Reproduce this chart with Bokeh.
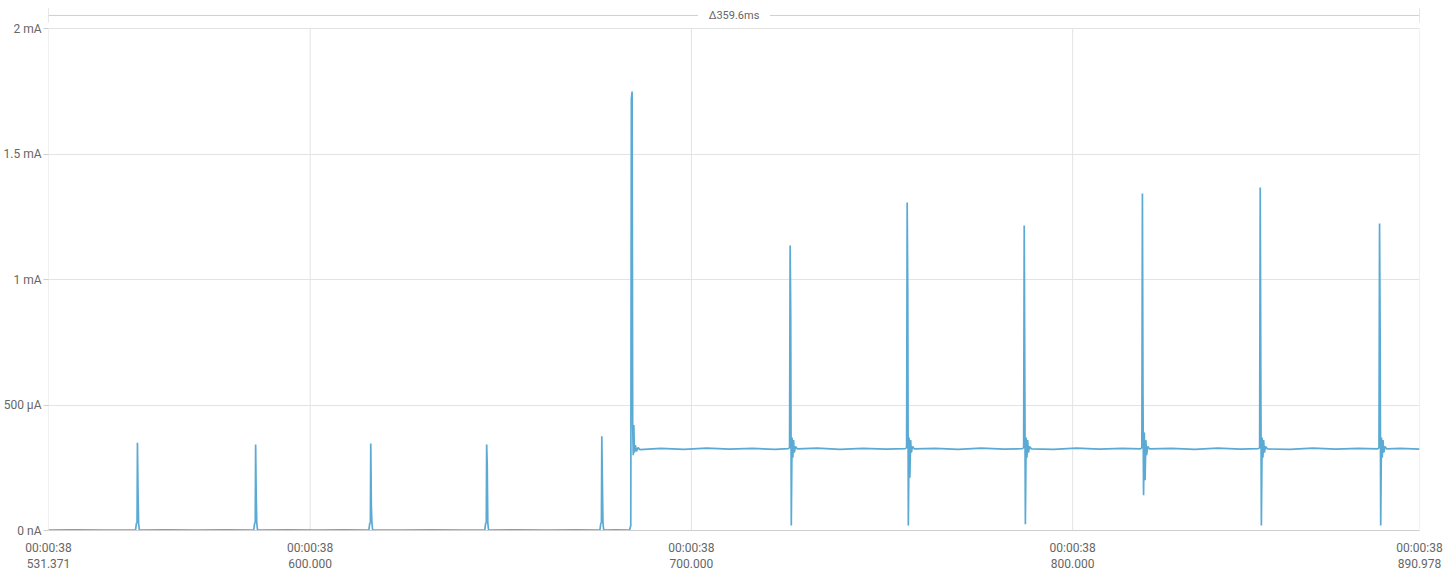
from bokeh.plotting import figure
from bokeh.models import Range1d, FixedTicker
from bokeh.core.properties import value
from bokeh.embed import file_html
from bokeh.resources import INLINE

# ---- data ----
x_start_ms = 531.371
x_end_ms = 890.978
x_ticks = [531.371, 600.0, 700.0, 800.0, 890.978]
x_tick_labels = ["00:00:38\n531.371", "00:00:38\n600.000", "00:00:38\n700.000",
                 "00:00:38\n800.000", "00:00:38\n890.978"]
y_ticks = [0.0, 0.5, 1.0, 1.5, 2.0]
y_tick_labels = ["0 nA", "500 µA", "1 mA", "1.5 mA", "2 mA"]

time_ms = [
    531.371, 538.0, 546.0, 554.2,
    554.45, 554.6, 554.7, 554.85, 555.0, 555.2,
    562.0, 570.0, 578.0, 585.2,
    585.45, 585.6, 585.7, 585.85, 586.0, 586.2,
    594.0, 602.0, 609.0, 615.4,
    615.65, 615.8, 615.9, 616.05, 616.2, 616.4,
    624.0, 632.0, 640.0, 645.8,
    646.05, 646.2, 646.3, 646.45, 646.6, 646.8,
    654.0, 662.0, 670.0, 676.0,
    676.25, 676.4, 676.5, 676.65, 676.8, 677.0,
    680.0, 683.8,
    684.1, 684.25, 684.45, 684.6, 684.75, 684.9, 685.05, 685.3, 685.6, 686.0, 686.5,
    692.0, 698.0, 704.0, 710.0, 716.0, 722.0, 725.4,
    725.75, 725.9, 726.05, 726.2, 726.4, 726.6, 726.8, 727.0, 727.3, 727.8,
    733.0, 739.0, 745.0, 751.0, 756.1,
    756.45, 756.6, 756.75, 756.9, 757.1, 757.3, 757.5, 757.7, 758.0, 758.5,
    764.0, 770.0, 776.0, 782.0, 786.8,
    787.15, 787.3, 787.45, 787.6, 787.8, 788.0, 788.2, 788.4, 788.7, 789.2,
    795.0, 801.0, 807.0, 813.0, 817.8,
    818.15, 818.3, 818.45, 818.6, 818.8, 819.0, 819.2, 819.4, 819.7, 820.2,
    826.0, 832.0, 838.0, 844.0, 848.7,
    849.05, 849.2, 849.35, 849.5, 849.7, 849.9, 850.1, 850.3, 850.6, 851.1,
    857.0, 863.0, 869.0, 875.0, 880.0,
    880.35, 880.5, 880.65, 880.8, 881.0, 881.2, 881.4, 881.6, 881.9, 882.4,
    886.0, 890.978,
]
current_ma = [
    0.002, 0.003, 0.002, 0.002,
    0.03, 0.03, 0.35, 0.16, 0.03, 0.002,
    0.003, 0.002, 0.003, 0.002,
    0.03, 0.03, 0.343, 0.14, 0.03, 0.002,
    0.003, 0.002, 0.003, 0.002,
    0.03, 0.03, 0.347, 0.10, 0.03, 0.002,
    0.002, 0.003, 0.002, 0.002,
    0.03, 0.03, 0.343, 0.26, 0.03, 0.002,
    0.003, 0.002, 0.003, 0.002,
    0.03, 0.03, 0.375, 0.20, 0.03, 0.002,
    0.003, 0.002,
    0.02, 1.72, 1.749, 0.42, 0.30, 0.42, 0.31, 0.34, 0.315, 0.33, 0.322,
    0.327, 0.323, 0.328, 0.324, 0.327, 0.323, 0.326,
    0.33, 1.135, 0.86, 0.02, 0.37, 0.29, 0.36, 0.31, 0.335, 0.325,
    0.328, 0.323, 0.327, 0.324, 0.326,
    0.33, 1.307, 0.955, 0.02, 0.37, 0.21, 0.36, 0.31, 0.335, 0.325,
    0.327, 0.323, 0.328, 0.324, 0.326,
    0.33, 1.215, 0.60, 0.025, 0.37, 0.29, 0.36, 0.31, 0.335, 0.325,
    0.323, 0.328, 0.324, 0.327, 0.325,
    0.33, 1.343, 0.54, 0.14, 0.39, 0.20, 0.36, 0.30, 0.335, 0.325,
    0.327, 0.323, 0.328, 0.324, 0.326,
    0.33, 1.367, 0.64, 0.02, 0.37, 0.29, 0.36, 0.31, 0.335, 0.325,
    0.323, 0.328, 0.324, 0.327, 0.325,
    0.33, 1.223, 0.80, 0.02, 0.37, 0.29, 0.36, 0.31, 0.335, 0.325,
    0.327, 0.324,
]

# ---- styling ----
FONT = "Roboto"
TEXT_COLOR = "#666666"
GRID_COLOR = "#e3e3e3"
AXIS_COLOR = "#cfcfcf"
LINE_COLOR = "#5aaad4"

y_top = 2.0837  # headroom for the selection span above the 2 mA line

p = figure(width=1446, height=576, output_backend="svg", toolbar_location=None,
           x_range=Range1d(x_start_ms, x_end_ms), y_range=Range1d(0, y_top),
           min_border_top=7, min_border_bottom=46, min_border_left=47,
           min_border_right=27)
p.outline_line_color = None
p.background_fill_color = "white"

# grids
p.xgrid.grid_line_color = None
p.ygrid.ticker = FixedTicker(ticks=y_ticks)
p.ygrid.grid_line_color = GRID_COLOR
p.segment(x0=x_ticks, y0=[0] * len(x_ticks), x1=x_ticks, y1=[2.0] * len(x_ticks),
          line_color=GRID_COLOR, line_width=1)

# x axis
xa = p.xaxis[0]
xa.ticker = FixedTicker(ticks=x_ticks)
xa.major_label_overrides = {t: l for t, l in zip(x_ticks, x_tick_labels)}
xa.major_tick_in = 0
xa.major_tick_out = 0
xa.minor_tick_out = 0
xa.minor_tick_in = 0
xa.axis_line_color = AXIS_COLOR
xa.major_label_standoff = 10
xa.major_label_text_font = FONT
xa.major_label_text_font_size = "12px"
xa.major_label_text_color = TEXT_COLOR

# y axis
ya = p.yaxis[0]
ya.ticker = FixedTicker(ticks=y_ticks)
ya.major_label_overrides = {t: l for t, l in zip(y_ticks, y_tick_labels)}
ya.axis_line_color = None
ya.major_tick_in = 0
ya.major_tick_out = 5
ya.major_tick_line_color = AXIS_COLOR
ya.minor_tick_out = 0
ya.minor_tick_in = 0
ya.major_label_standoff = 2
ya.major_label_text_font = FONT
ya.major_label_text_font_size = "12px"
ya.major_label_text_color = TEXT_COLOR

# selection span above the plot
span_y = 2.052
p.segment(x0=[x_start_ms], y0=[span_y], x1=[x_end_ms], y1=[span_y],
          line_color=AXIS_COLOR, line_width=1)
p.segment(x0=[x_start_ms, x_end_ms], y0=[2.024, 2.024], x1=[x_start_ms, x_end_ms],
          y1=[y_top, y_top], line_color=AXIS_COLOR, line_width=1)
mid = (x_start_ms + x_end_ms) / 2
p.rect(x=[mid], y=[span_y], width=72, height=14, width_units="screen",
       height_units="screen", fill_color="white", line_color=None)
p.text(x=[mid], y=[span_y], text=["Δ{:.1f}ms".format(x_end_ms - x_start_ms)],
       text_align="center", text_baseline="middle", text_font=value(FONT),
       text_font_size="11px", text_color=TEXT_COLOR)

# trace
p.line(time_ms, current_ma, line_color=LINE_COLOR, line_width=1.7)

open("out.html", "w").write(file_html(p, INLINE))
